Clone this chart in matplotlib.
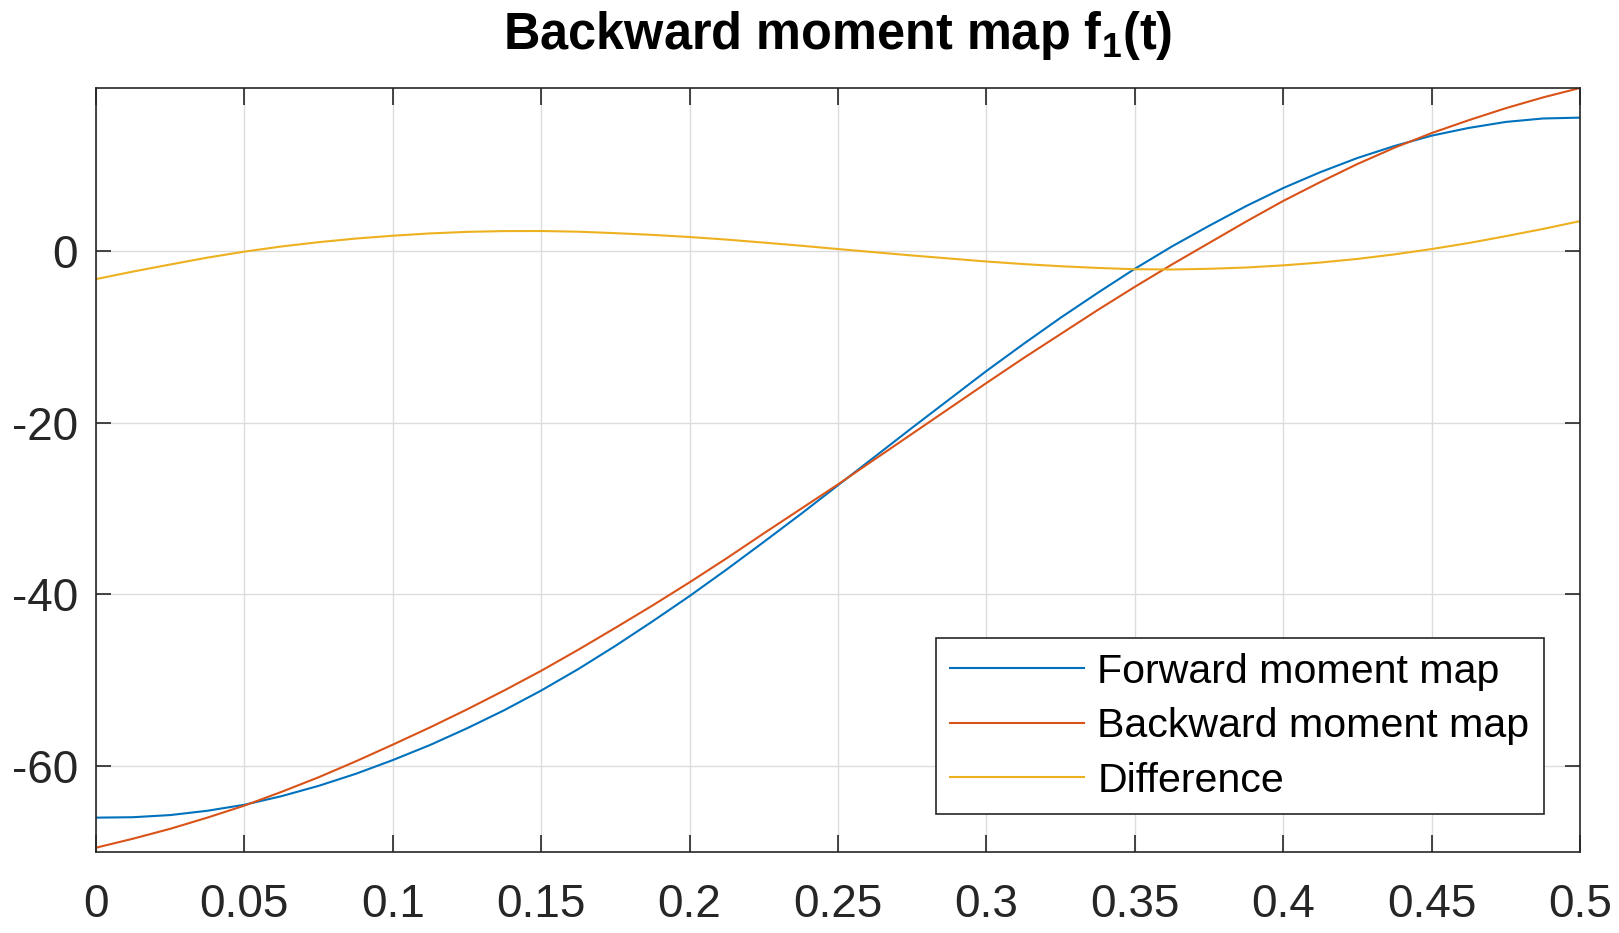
import matplotlib
matplotlib.use("Agg")
import matplotlib.pyplot as plt

# ---- data ----
t = [0.0, 0.0125, 0.025, 0.0375, 0.05, 0.0625, 0.075, 0.0875, 0.1, 0.1125,
     0.125, 0.1375, 0.15, 0.1625, 0.175, 0.1875, 0.2, 0.2125, 0.225, 0.2375,
     0.25, 0.2625, 0.275, 0.2875, 0.3, 0.3125, 0.325, 0.3375, 0.35, 0.3625,
     0.375, 0.3875, 0.4, 0.4125, 0.425, 0.4375, 0.45, 0.4625, 0.475, 0.4875, 0.5]
forward = [-66.0, -65.95, -65.7, -65.2, -64.5, -63.5, -62.3, -60.9, -59.3, -57.55,
           -55.6, -53.5, -51.2, -48.7, -46.0, -43.15, -40.2, -37.1, -33.9, -30.65,
           -27.3, -23.95, -20.6, -17.3, -14.0, -10.85, -7.8, -4.9, -2.1, 0.5,
           2.9, 5.2, 7.3, 9.15, 10.8, 12.2, 13.4, 14.3, 15.0, 15.4, 15.5]
backward = [-69.5, -68.45, -67.3, -66.0, -64.6, -63.0, -61.3, -59.45, -57.5, -55.5,
            -53.4, -51.2, -48.9, -46.45, -43.9, -41.3, -38.6, -35.8, -32.9, -30.05,
            -27.2, -24.25, -21.3, -18.35, -15.4, -12.5, -9.7, -6.9, -4.2, -1.6,
            0.9, 3.4, 5.8, 8.0, 10.1, 12.0, 13.7, 15.2, 16.6, 17.85, 18.95]
difference = [-3.3, -2.42, -1.6, -0.8, -0.1, 0.5, 1.0, 1.42, 1.75, 2.02,
              2.2, 2.29, 2.3, 2.22, 2.05, 1.85, 1.6, 1.3, 0.95, 0.59,
              0.2, -0.175, -0.55, -0.9, -1.25, -1.55, -1.8, -2.0, -2.15, -2.18,
              -2.1, -1.95, -1.7, -1.37, -0.95, -0.42, 0.2, 0.9, 1.7, 2.54, 3.45]
labels = ["Forward moment map", "Backward moment map", "Difference"]
colors = ["#0072BD", "#D95319", "#EDB120"]
xticks = [0, 0.05, 0.1, 0.15, 0.2, 0.25, 0.3, 0.35, 0.4, 0.45, 0.5]
xticklabels = ["0", "0.05", "0.1", "0.15", "0.2", "0.25", "0.3", "0.35", "0.4", "0.45", "0.5"]
yticks = [-60, -40, -20, 0]
yticklabels = ["-60", "-40", "-20", "0"]
title = r"Backward moment map f$_\mathbf{1}$(t)"

plt.rcParams['font.family'] = ['Liberation Sans', 'DejaVu Sans']
plt.rcParams['mathtext.fontset'] = 'custom'
plt.rcParams['mathtext.rm'] = 'Liberation Sans'
plt.rcParams['mathtext.bf'] = 'Liberation Sans:bold'
plt.rcParams['mathtext.it'] = 'Liberation Sans:italic'

W, H = 1619, 933
fig = plt.figure(figsize=(W / 100, H / 100), dpi=100)
L, R, T, B = 96, 1580, 88, 852
ax = fig.add_axes([L / W, 1 - B / H, (R - L) / W, (B - T) / H])

for y, lab, c in zip([forward, backward, difference], labels, colors):
    ax.plot(t, y, color=c, linewidth=1.5, label=lab)

ax.set_xlim(0, 0.5)
ax.set_ylim(-70.0, 18.95)
ax.set_xticks(xticks)
ax.set_xticklabels(xticklabels)
ax.set_yticks(yticks)
ax.set_yticklabels(yticklabels)
ax.grid(True, color="#dcdcdc", linewidth=1.0)
ax.set_axisbelow(True)
for s in ax.spines.values():
    s.set_color("#262626")
    s.set_linewidth(1.2)
ax.tick_params(axis='both', direction='in', top=True, right=True, colors="#262626",
               labelcolor="#262626", labelsize=33, width=1.2)
ax.tick_params(axis='x', length=12, pad=22)
ax.tick_params(axis='y', length=11, pad=13)

fig.text(838 / W, 1 - 49 / H, title, ha='center', va='baseline',
         fontsize=36.4, fontweight='bold', color='black')

leg = ax.legend(loc='lower right', bbox_to_anchor=(1544 / W, 1 - 814 / H),
                bbox_transform=fig.transFigure, borderaxespad=0, fontsize=29.6,
                handlelength=3.25, handletextpad=0.33, labelspacing=0.40,
                borderpad=0.35, fancybox=False, framealpha=1, edgecolor='#262626')
leg.get_frame().set_linewidth(1.2)

fig.savefig("out.png", dpi=100)
